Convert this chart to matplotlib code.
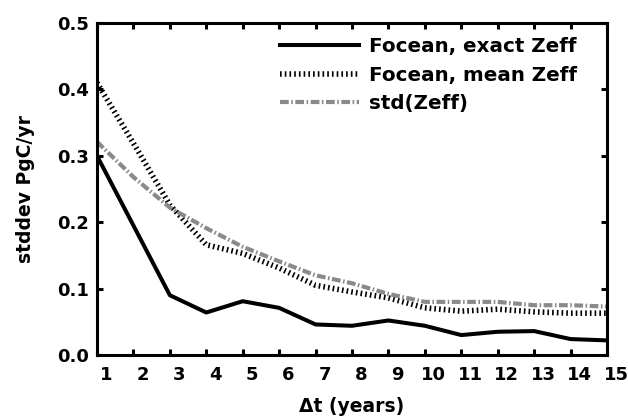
import numpy as np
import matplotlib
matplotlib.use('Agg')
import matplotlib.pyplot as plt
import matplotlib.transforms as mtransforms

plt.rcParams['font.family'] = ['DejaVu Sans']
plt.rcParams['font.weight'] = 'bold'

dt = [1, 2, 3, 4, 5, 6, 7, 8, 9, 10, 11, 12, 13, 14, 15]
exact_zeff = [0.300, 0.195, 0.090, 0.064, 0.081, 0.071, 0.046, 0.044, 0.052, 0.044,
              0.030, 0.035, 0.036, 0.024, 0.022]
mean_zeff = [0.410, 0.319, 0.226, 0.166, 0.153, 0.131, 0.105, 0.095, 0.086, 0.071,
             0.066, 0.069, 0.065, 0.063, 0.063]
std_zeff = [0.321, 0.268, 0.222, 0.191, 0.163, 0.141, 0.120, 0.108, 0.092, 0.080,
            0.080, 0.080, 0.075, 0.075, 0.073]

W, H = 628, 416
fig = plt.figure(figsize=(W / 100, H / 100), dpi=100)
ax = fig.add_axes([97 / W, 1 - 355 / H, 510 / W, 332 / H])

ax.plot(dt, exact_zeff, color='black', lw=2.9, solid_joinstyle='round',
        label='Focean, exact Zeff')
ax.plot(dt, mean_zeff, color='black', lw=4.0, dashes=(0.3, 0.55),
        dash_capstyle='butt', label='Focean, mean Zeff')
ax.plot(dt, std_zeff, color='#8a8a8a', lw=3.0, dashes=(2.1, 0.6, 0.38, 0.6),
        dash_capstyle='butt', label='std(Zeff)')

ax.set_xlim(1, 15)
ax.set_ylim(0, 0.5)
ax.set_xticks(dt)
ax.set_yticks([0.0, 0.1, 0.2, 0.3, 0.4, 0.5])
ax.set_yticklabels(['0.0', '0.1', '0.2', '0.3', '0.4', '0.5'])
ax.tick_params(direction='in', length=4, width=2.2, top=True, right=True,
               labelsize=13)
ax.tick_params(axis='x', pad=8)
ax.tick_params(axis='y', pad=6)
shift = mtransforms.ScaledTranslation(9 / 100, 0, fig.dpi_scale_trans)
for lab in ax.get_xticklabels():
    lab.set_fontweight('bold')
    lab.set_transform(lab.get_transform() + shift)
for lab in ax.get_yticklabels():
    lab.set_fontweight('bold')
for sp in ax.spines.values():
    sp.set_linewidth(2.2)

ax.set_xlabel('\u0394t (years)', fontsize=13.5, fontweight='bold', labelpad=9)
ax.set_ylabel('stddev PgC/yr', fontsize=13.5, fontweight='bold', labelpad=16)

leg = ax.legend(loc='upper left', bbox_to_anchor=(280 / W, 1 - 37 / H),
                bbox_transform=fig.transFigure, frameon=False,
                handlelength=4.0, handletextpad=0.46, labelspacing=0.48,
                borderaxespad=0, borderpad=0,
                prop={'weight': 'bold', 'size': 14.3})

fig.savefig('out.png', dpi=100)
